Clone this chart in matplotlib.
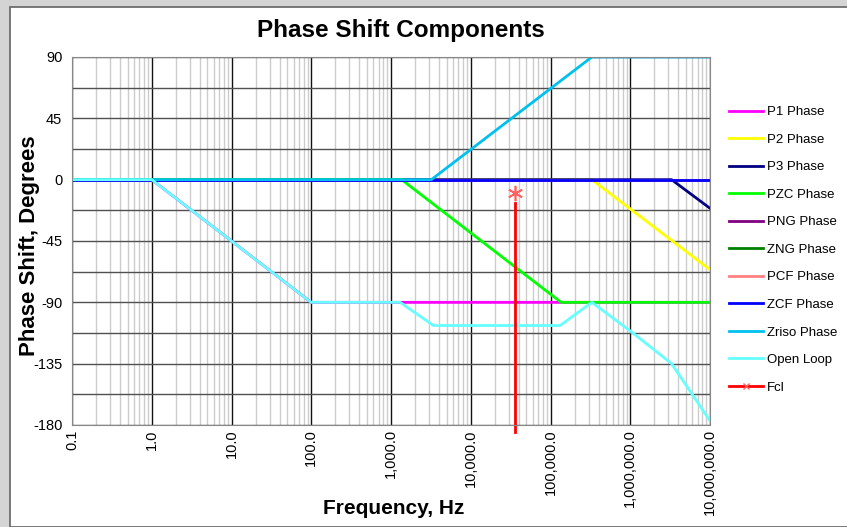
# Phase shift components - bode phase plot (Excel-style look)

import matplotlib
matplotlib.use("Agg")
import matplotlib.pyplot as plt
from matplotlib.lines import Line2D
from matplotlib.patches import Rectangle

plt.rcParams['font.family'] = ['Liberation Sans', 'DejaVu Sans']

# breakpoints (frequency in Hz, phase in degrees)
p1_f = [0.1, 1, 100, 1e7]
p1_ph = [0, 0, -90, -90]
p2_f = [0.1, 3.3e5, 1e7]
p2_ph = [0, 0, -66]
p3_f = [0.1, 3.3e6, 1e7]
p3_ph = [0, 0, -21]
pzc_f = [0.1, 1.36e3, 1.36e5, 1e7]
pzc_ph = [0, 0, -90, -90]
png_f = [0.1, 1e7]
png_ph = [0, 0]
zng_f = [0.1, 1e7]
zng_ph = [0, 0]
pcf_f = [0.1, 1e7]
pcf_ph = [0, 0]
zcf_f = [0.1, 1e7]
zcf_ph = [0, 0]
zriso_f = [0.1, 3.2e3, 3.3e5, 1e7]
zriso_ph = [0, 0, 90, 90]
ol_f = [0.1, 1, 100, 1.3e3, 3.4e3, 1.32e5, 3.3e5, 1e6, 3.3e6, 1e7]
ol_ph = [0, 0, -90, -90, -107, -107, -90, -111, -135, -177]
fcl_f = 3.6e4
fcl_mark = -10
fcl_line = [-17, -185]

xticks = [0.1, 1, 10, 100, 1e3, 1e4, 1e5, 1e6, 1e7]
xlabels = ["0.1", "1.0", "10.0", "100.0", "1,000.0", "10,000.0",
           "100,000.0", "1,000,000.0", "10,000,000.0"]
yticks = [-180, -135, -90, -45, 0, 45, 90]

series = [
    ("P1 Phase", p1_f, p1_ph, "#ff00ff"),
    ("P2 Phase", p2_f, p2_ph, "#ffff00"),
    ("P3 Phase", p3_f, p3_ph, "#000080"),
    ("PZC Phase", pzc_f, pzc_ph, "#00ff00"),
    ("PNG Phase", png_f, png_ph, "#800080"),
    ("ZNG Phase", zng_f, zng_ph, "#008000"),
    ("PCF Phase", pcf_f, pcf_ph, "#ff8080"),
    ("ZCF Phase", zcf_f, zcf_ph, "#0000ff"),
    ("Zriso Phase", zriso_f, zriso_ph, "#00c0f0"),
    ("Open Loop", ol_f, ol_ph, "#66ffff"),
]

fig = plt.figure(figsize=(8.47, 5.27), dpi=100)
fig.patch.set_facecolor("#d4d4d4")
fig.add_artist(Rectangle((10 / 847, 0), 1, 1 - 7 / 527, transform=fig.transFigure,
                         facecolor="white", edgecolor="#6e6e6e", lw=1.3, zorder=-5))

ax = fig.add_axes([72 / 847, 102 / 527, 638 / 847, 368 / 527])
ax.set_xscale("log")
ax.set_xlim(0.1, 1e7)
ax.set_ylim(-180, 90)

# grid
ax.set_xticks(xticks, xlabels, rotation=90, fontsize=10.5)
ax.set_xticks([m * d for d in xticks[:-1] for m in range(2, 10)], minor=True)
ax.set_yticks(yticks)
ax.set_yticklabels([str(v) for v in yticks], fontsize=10.5)
ax.set_yticks([-157.5, -112.5, -67.5, -22.5, 22.5, 67.5], minor=True)
ax.tick_params(which="both", length=0)
ax.tick_params(axis="x", pad=3)
ax.tick_params(axis="y", pad=7)
ax.grid(which="major", axis="x", color="#111111", lw=1.0)
ax.grid(which="minor", axis="x", color="#cccccc", lw=1.0)
ax.grid(which="both", axis="y", color="#505050", lw=1.0)
ax.set_axisbelow(True)
for s in ax.spines.values():
    s.set_color("#888888")

handles = []
for name, f, ph, c in series:
    ln, = ax.plot(f, ph, color=c, lw=2, label=name)
    handles.append(ln)

ax.plot([fcl_f, fcl_f], fcl_line, color="#ff0000", lw=2, clip_on=False)
ax.plot([fcl_f], [fcl_mark], ls="none", marker=(6, 2, 0), ms=11,
        mec="#ff6060", mew=1.2)
handles.append(Line2D([], [], color="#ff0000", lw=2, marker="x", ms=5,
                      mec="#ff6060", label="Fcl"))

fig.legend(handles=handles, loc="upper left", bbox_to_anchor=(729 / 847, 1 - 106 / 527),
           frameon=False, fontsize=9.5, borderpad=0, borderaxespad=0,
           handlelength=2.6, handletextpad=0.3, labelspacing=1.16)

fig.text(401 / 847, 1 - 31 / 527, "Phase Shift Components", ha="center", va="center",
         fontsize=17.5, fontweight="bold")
fig.text(394 / 847, 1 - 508 / 527, "Frequency, Hz", ha="center", va="center",
         fontsize=15, fontweight="bold")
fig.text(29 / 847, 1 - 246 / 527, "Phase Shift, Degrees", ha="center", va="center",
         rotation=90, fontsize=16, fontweight="bold")

fig.savefig("out.png", dpi=100, facecolor=fig.get_facecolor())
